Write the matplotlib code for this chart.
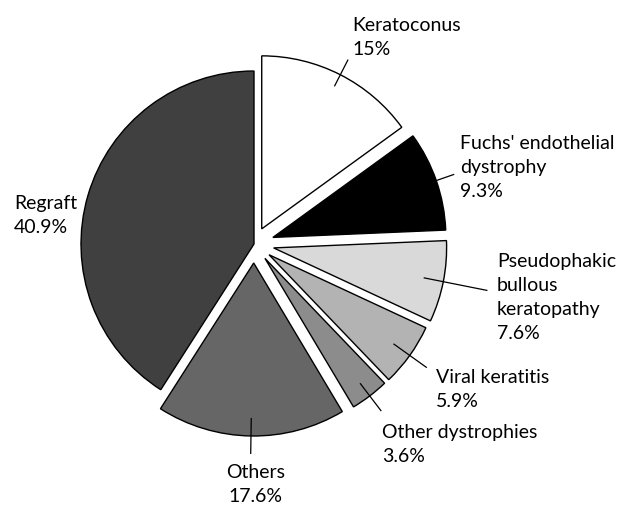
import numpy as np
import matplotlib
matplotlib.use("Agg")
import matplotlib.pyplot as plt

# ---- data ----
categories = ["Keratoconus", "Fuchs' endothelial\ndystrophy", "Pseudophakic\nbullous\nkeratopathy",
              "Viral keratitis", "Other dystrophies", "Others", "Regraft"]
percent = [15.0, 9.3, 7.6, 5.9, 3.6, 17.6, 40.9]
colors = ["#ffffff", "#000000", "#d9d9d9", "#b3b3b3", "#8c8c8c", "#666666", "#404040"]

# ---- layout (pixel-like data coordinates, y up) ----
W, H = 619, 506
explode = [17, 20, 20, 18.5, 18, 19, 0]
center = (254, H - 245)
radius = 173
LINE = 24  # line pitch in pixels

plt.rcParams['font.family'] = ['Lato', 'DejaVu Sans']
fig = plt.figure(figsize=(W / 100, H / 100), dpi=100)
ax = fig.add_axes([0, 0, 1, 1])
wedges, _ = ax.pie(percent, colors=colors, explode=explode, startangle=90,
                   counterclock=False, radius=radius, center=center, frame=True,
                   wedgeprops=dict(edgecolor="black", linewidth=1.0))
ax.set_xlim(0, W)
ax.set_ylim(0, H)
ax.set_aspect("equal")
ax.axis("off")

# leader lines: inner / outer radius along each wedge's mid-angle
leader_r = [(160, 190), (173, 192), (153, 218), (153, 194), (157, 192), (155, 191), None]
# label anchor (x, first-line baseline y in pixels from top), alignment
label_pos = [(352, 31, "left"), (460, 149, "left"), (497, 267, "left"),
             (436, 383, "left"), (382, 438, "left"), (255.5, 478, "center"), (14, 209, "left")]

def fmt(v):
    return f"{v:g}%"

for w, name, val, lr, (lx, ly, ha) in zip(wedges, categories, percent, leader_r, label_pos):
    if lr is not None:
        th = np.deg2rad((w.theta1 + w.theta2) / 2)
        cx, cy = w.center
        r1, r2 = lr
        ax.plot([cx + r1 * np.cos(th), cx + r2 * np.cos(th)],
                [cy + r1 * np.sin(th), cy + r2 * np.sin(th)],
                color="black", linewidth=0.9, solid_capstyle="butt")
    lines = name.split("\n") + [fmt(val)]
    for i, s in enumerate(lines):
        ax.text(lx, H - (ly + i * LINE), s, ha=ha, va="baseline",
                fontsize=14, color="black")

fig.savefig("out.png", dpi=100, facecolor="white")
